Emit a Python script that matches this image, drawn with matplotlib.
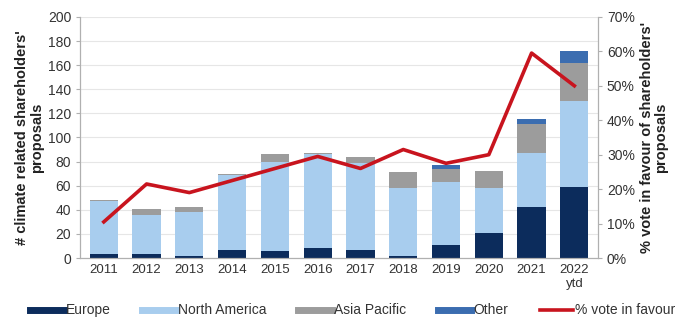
import matplotlib.pyplot as plt
from matplotlib.lines import Line2D
from matplotlib.ticker import FuncFormatter
import numpy as np

plt.rcParams['font.family'] = ['Liberation Sans', 'DejaVu Sans']

years = ['2011', '2012', '2013', '2014', '2015', '2016', '2017', '2018',
         '2019', '2020', '2021', '2022\nytd']
europe = [3, 3, 2, 7, 6, 8, 7, 2, 11, 21, 42, 59]
north_america = [44, 33, 36, 62, 74, 78, 72, 56, 52, 37, 45, 71]
asia_pacific = [1, 5, 4, 1, 6, 1, 5, 13, 11, 14, 24, 32]
other = [0, 0, 0, 0, 0, 0, 0, 0, 3, 0, 4, 10]
vote_pct = [10.5, 21.5, 19, 22.5, 26, 29.5, 26, 31.5, 27.5, 30, 59.5, 50]

c_eu = '#0c2c5c'
c_na = '#a8cdee'
c_ap = '#9c9c9c'
c_ot = '#3b6db0'
c_vote = '#c8141e'

fig = plt.figure(figsize=(6.92, 3.25), dpi=100)
ax = fig.add_axes([0.116, 0.206, 0.748, 0.742])
ax2 = ax.twinx()

x = np.arange(len(years))
w = 0.66
bottom = np.zeros(len(years))
for vals, col in [(europe, c_eu), (north_america, c_na), (asia_pacific, c_ap), (other, c_ot)]:
    ax.bar(x, vals, w, bottom=bottom, color=col, zorder=2)
    bottom += np.array(vals)

ax2.plot(x, vote_pct, color=c_vote, lw=2.6, zorder=3)

ax.set_ylim(0, 200)
ax.set_yticks(range(0, 201, 20))
ax2.set_ylim(0, 70)
ax2.set_yticks(range(0, 71, 10))
ax2.yaxis.set_major_formatter(FuncFormatter(lambda v, p: f'{int(v)}%'))
ax.set_xlim(-0.55, len(years) - 0.45)
ax.set_xticks(x)
ax.set_xticklabels(years, linespacing=1.3)

ax.grid(axis='y', color='#e6e6e6', lw=0.8, zorder=0)
ax.set_axisbelow(True)

for a in (ax, ax2):
    a.spines['top'].set_visible(False)
    for s in ('left', 'right', 'bottom'):
        a.spines[s].set_color('#b0b0b0')
        a.spines[s].set_linewidth(0.8)
    a.tick_params(colors='#b0b0b0', labelcolor='#333333', labelsize=10, length=3, width=0.8)
ax.tick_params(axis='x', length=0, pad=4, labelsize=9.5)

ax.set_ylabel("# climate related shareholders'\nproposals", fontsize=10.5,
              fontweight='bold', color='#222222', labelpad=3, linespacing=1.05)
ax2.set_ylabel("% vote in favour of shareholders'\nproposals", fontsize=10.5,
               fontweight='bold', color='#222222', rotation=90, labelpad=4, linespacing=1.0)

handles = [Line2D([], [], color=c_eu, lw=5),
           Line2D([], [], color=c_na, lw=5),
           Line2D([], [], color=c_ap, lw=5),
           Line2D([], [], color=c_ot, lw=5),
           Line2D([], [], color=c_vote, lw=2.6)]
labels = ['Europe', 'North America', 'Asia Pacific', 'Other', '% vote in favour']
fig.legend(handles, labels, loc='lower center', bbox_to_anchor=(0.51, -0.015), ncol=5,
           frameon=False, fontsize=10, handlelength=2.4, columnspacing=2.3,
           handletextpad=0.15, labelcolor='#333333')

fig.savefig('out.png', dpi=100)
